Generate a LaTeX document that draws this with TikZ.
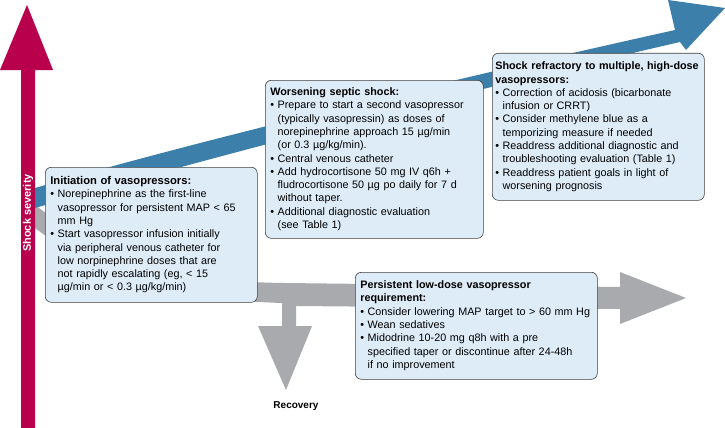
\documentclass[tikz,border=0pt]{standalone}
\usepackage{fontspec}
\setmainfont{Liberation Sans}
\begin{document}
\newcommand{\bl}{\textbullet\ }
\newcommand{\ind}{\phantom{\textbullet\ }}
\definecolor{sred}{HTML}{B8004C}
\definecolor{sblue}{HTML}{3D7FAB}
\definecolor{sgray}{HTML}{A8AAAD}
\definecolor{boxfill}{HTML}{DEECF8}
\begin{tikzpicture}[x=1pt,y=-1pt,
  box/.style={draw=black!75,fill=boxfill,rounded corners=6pt,line width=0.6pt,align=left,anchor=north west,font=\fontsize{10.8}{13.3}\selectfont,inner xsep=5pt,inner ysep=5pt},
  lbl/.style={font=\bfseries\fontsize{10}{12}\selectfont}]
\useasboundingbox (0,0) rectangle (725,428);
% gray arrow
\fill[sgray] (35,205) .. controls (120,270) and (200,282) .. (285,283) -- (620,287) -- (620,272) -- (686,298) -- (620,324) -- (620,309)
  -- (296,306) -- (296,326) -- (312,326) -- (286,390) -- (258,326) -- (282,326) -- (282,303)
  .. controls (190,300) and (110,285) .. (35,228) -- cycle;
\node[lbl] (rec) at (296,406) {Recovery};
% blue arrow
\fill[sblue] (35,188) .. controls (200,140) and (450,80) .. (675,30) -- (668,0) -- (725,8) -- (686,50) -- (680,42)
  .. controls (450,95) and (200,160) .. (35,208) -- cycle;
% red arrow
\fill[sred] (21,428) -- (21,70) -- (0,70) -- (27,5) -- (53,70) -- (35,70) -- (35,428) -- cycle;
\node[lbl,white,rotate=90,font=\bfseries\fontsize{11}{12}\selectfont] (sev) at (28,213) {Shock severity};
% boxes
\node[box,text width=202pt,minimum height=135pt] (init) at (45,167) {\textbf{\fontsize{11.2}{13.3}\selectfont Initiation of vasopressors:}\\
\bl Norepinephrine as the first-line\\ \ind vasopressor for persistent MAP < 65\\ \ind mm Hg\\
\bl Start vasopressor infusion initially\\ \ind via peripheral venous catheter for\\ \ind low norpinephrine doses that are\\ \ind not rapidly escalating (eg, < 15\\ \ind µg/min or < 0.3 µg/kg/min)};
\node[box,text width=208pt,minimum height=158pt] (wors) at (265,80) {\textbf{Worsening septic shock:}\\
\bl Prepare to start a second vasopressor\\ \ind (typically vasopressin) as doses of\\ \ind norepinephrine approach 15 µg/min\\ \ind (or 0.3 µg/kg/min).\\
\bl Central venous catheter\\
\bl Add hydrocortisone 50 mg IV q6h +\\ \ind fludrocortisone 50 µg po daily for 7 d\\ \ind without taper.\\
\bl Additional diagnostic evaluation\\ \ind (see Table 1)};
\node[box,text width=206pt,inner xsep=3pt,minimum height=147pt] (refr) at (492,53) {\mbox{\textbf{Shock refractory to multiple, high-dose}}\\ \textbf{vasopressors:}\\
\bl Correction of acidosis (bicarbonate\\ \ind infusion or CRRT)\\
\bl Consider methylene blue as a\\ \ind temporizing measure if needed\\
\bl Readdress additional diagnostic and\\ \ind troubleshooting evaluation (Table 1)\\
\bl Readdress patient goals in light of\\ \ind worsening prognosis};
\node[box,text width=232pt,minimum height=107pt] (pers) at (355,272) {\textbf{Persistent low-dose vasopressor}\\ \textbf{requirement:}\\
\bl Consider lowering MAP target to > 60 mm Hg\\
\bl Wean sedatives\\
\bl Midodrine 10-20 mg q8h with a pre\\ \ind specified taper or discontinue after 24-48h\\ \ind if no improvement};
\end{tikzpicture}
\end{document}
